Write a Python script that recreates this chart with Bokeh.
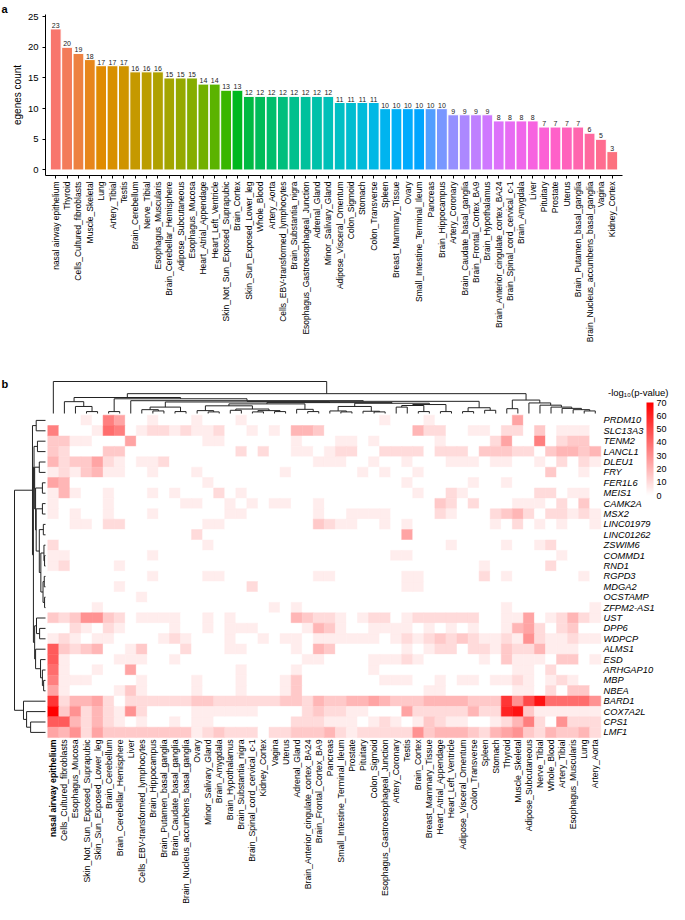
import math
from bokeh.plotting import figure
from bokeh.models import (ColumnDataSource, FactorRange, Range1d, Label, LinearColorMapper,
                          ColorBar, FixedTicker, Title)
from bokeh.core.properties import value
from bokeh.transform import linear_cmap
from bokeh.embed import file_html
from bokeh.resources import INLINE

FONT = "Liberation Sans"

# ---------------- Panel a data ----------------
bar_tissues = ["nasal airway epithelium", "Thyroid", "Cells_Cultured_fibroblasts", "Muscle_Skeletal",
               "Lung", "Artery_Tibial", "Testis", "Brain_Cerebellum", "Nerve_Tibial",
               "Esophagus_Muscularis", "Brain_Cerebellar_Hemisphere", "Adipose_Subcutaneous",
               "Esophagus_Mucosa", "Heart_Atrial_Appendage", "Heart_Left_Ventricle",
               "Skin_Not_Sun_Exposed_Suprapubic", "Brain_Cortex", "Skin_Sun_Exposed_Lower_leg",
               "Whole_Blood", "Artery_Aorta", "Cells_EBV-transformed_lymphocytes",
               "Brain_Substantia_nigra", "Esophagus_Gastroesophageal_Junction", "Adrenal_Gland",
               "Minor_Salivary_Gland", "Adipose_Visceral_Omentum", "Colon_Sigmoid", "Stomach",
               "Colon_Transverse", "Spleen", "Breast_Mammary_Tissue", "Ovary",
               "Small_Intestine_Terminal_Ileum", "Pancreas", "Brain_Hippocampus", "Artery_Coronary",
               "Brain_Caudate_basal_ganglia", "Brain_Frontal_Cortex_BA9", "Brain_Hypothalamus",
               "Brain_Anterior_cingulate_cortex_BA24", "Brain_Spinal_cord_cervical_c-1",
               "Brain_Amygdala", "Liver", "Pituitary", "Prostate", "Uterus",
               "Brain_Putamen_basal_ganglia", "Brain_Nucleus_accumbens_basal_ganglia", "Vagina",
               "Kidney_Cortex"]
bar_counts = [23, 20, 19, 18, 17, 17, 17, 16, 16, 16, 15, 15, 15, 14, 14, 13, 13, 12, 12, 12,
              12, 12, 12, 12, 12, 11, 11, 11, 11, 10, 10, 10, 10, 10, 10, 9, 9, 9, 9, 8,
              8, 8, 8, 7, 7, 7, 7, 6, 5, 3]
y_ticks_a = [0, 5, 10, 15, 20, 25]

# ---------------- Panel b data ----------------
heat_tissues = ["nasal airway epithelium", "Cells_Cultured_fibroblasts", "Esophagus_Mucosa",
                "Skin_Not_Sun_Exposed_Suprapubic", "Skin_Sun_Exposed_Lower_leg", "Brain_Cerebellum",
                "Brain_Cerebellar_Hemisphere", "Liver", "Cells_EBV-transformed_lymphocytes",
                "Brain_Hippocampus", "Brain_Putamen_basal_ganglia", "Brain_Caudate_basal_ganglia",
                "Brain_Nucleus_accumbens_basal_ganglia", "Ovary", "Minor_Salivary_Gland",
                "Brain_Amygdala", "Brain_Hypothalamus", "Brain_Substantia_nigra",
                "Brain_Spinal_cord_cervical_c-1", "Kidney_Cortex", "Vagina", "Uterus",
                "Adrenal_Gland", "Brain_Anterior_cingulate_cortex_BA24", "Brain_Frontal_Cortex_BA9",
                "Pancreas", "Small_Intestine_Terminal_Ileum", "Prostate", "Pituitary",
                "Colon_Sigmoid", "Esophagus_Gastroesophageal_Junction", "Artery_Coronary", "Testis",
                "Brain_Cortex", "Breast_Mammary_Tissue", "Heart_Atrial_Appendage",
                "Heart_Left_Ventricle", "Adipose_Visceral_Omentum", "Colon_Transverse", "Spleen",
                "Stomach", "Thyroid", "Muscle_Skeletal", "Adipose_Subcutaneous", "Nerve_Tibial",
                "Whole_Blood", "Artery_Tibial", "Esophagus_Muscularis", "Lung", "Artery_Aorta"]
heat_genes = ["PRDM10", "SLC13A3", "TENM2", "LANCL1", "DLEU1", "FRY", "FER1L6", "MEIS1", "CAMK2A",
              "MSX2", "LINC01979", "LINC01262", "ZSWIM6", "COMMD1", "RND1", "RGPD3", "MDGA2",
              "OCSTAMP", "ZFPM2-AS1", "UST", "DPP6", "WDPCP", "ALMS1", "ESD", "ARHGAP10", "MBP",
              "NBEA", "BARD1", "COX7A2L", "CPS1", "LMF1"]
# -log10(p) per gene (row) and tissue (column); one base-36 digit per cell, value = digit * 5
heat_rows = [
    "0001075001 0001000100 0000000000 1000100000 0050000000",  # PRDM10
    "7000187012 2121120010 1044300000 0004220011 0220301110",  # SLC13A3
    "3311000500 0000110000 0010001101 0000010000 2500702330",  # TENM2
    "3200033000 0000000202 0011012200 2222022203 3322034434",  # LANCL1
    "4233521011 2000000000 0000111001 0010001110 1100102021",  # DLEU1
    "1213411001 0001000000 0100000010 1001000000 0000030010",  # FRY
    "5400000000 0000100000 0000000000 0010000010 0100000000",  # FER1L6
    "1410010001 0100020100 0000000000 0001002100 0000220110",  # MEIS1
    "1000010000 0011001010 1100100000 0000032020 0011102030",  # CAMK2A
    "1010010001 0000001100 0000100111 1000021000 2342022121",  # MSX2
    "0011022000 0000110000 0000321100 1010000000 1020101001",  # LINC01979
    "0000000000 0002000000 0000000000 0050000000 0000000000",  # LINC01262
    "2000000000 0000100000 0000000000 0000001000 0100120000",  # ZSWIM6
    "1100000001 0000000000 0000000000 0110000000 0000001000",  # COMMD1
    "1200001000 0000000000 0000000000 0000000001 0000020000",  # RND1
    "0000000001 0000110000 0000110000 0011000002 0100000010",  # RGPD3
    "0000001000 0000000020 0000000000 0011000000 0000000000",  # MDGA2
    "0000000010 0000000000 0000000000 0000000000 0000000000",  # OCSTAMP
    "0000100000 0000000000 1010000000 0000000000 0100000001",  # ZFPM2-AS1
    "3236632011 1100101000 0043221012 2012222220 0115012421",  # UST
    "0021021000 0100101110 0001431001 1110101010 0145202300",  # DPP6
    "1210110000 1210001001 0110111111 0121232321 1216211211",  # WDPCP
    "9323400130 0020001100 0010430000 0010122022 1322411100",  # ALMS1
    "9100001110 0100000000 0001100001 1121000001 0311103301",  # ESD
    "8100100500 0000000100 0010000001 0000000000 0011020000",  # ARHGAP10
    "7111000010 0001000100 0130000000 1110010110 1121012100",  # MBP
    "5100001310 0001000100 0130000000 0000110000 0011020330",  # NBEA
    "b244520222 2223322222 2332433445 4333444433 3b6ad88886",  # BARD1
    "e362421620 0001111110 0002322110 0052222242 2cd3111111",  # COX7A2L
    "9942421010 0101100000 0022211101 2101321100 1247206222",  # CPS1
    "5462533333 3331232220 2233342122 2226344432 4563243342",  # LMF1
]
legend_ticks = [0, 10, 20, 30, 40, 50, 60, 70]

# clustering trees: [left, right, merge height]; leaves are column / row indices
col_tree = [0,
            [[[1, [2, [3, 4, 0.06], 0.22], 0.37],
              [[5, 6, 0.06],
               [7,
                [[[[8, [9, 10, 0.08], 0.12], [11, 12, 0.06], 0.20],
                  [[[[13, [14, 15, 0.05], 0.09],
                     [[16, 17, 0.10], [[18, 19, 0.05], [20, 21, 0.06], 0.09], 0.14], 0.24],
                    [22, [23, 24, 0.06], 0.13], 0.30],
                   [[[25, [26, 27, 0.05], 0.08], [28, [29, 30, 0.05], 0.07], 0.22],
                    [[[31, 32, 0.20], [33, 34, 0.06], 0.25], [35, 36, 0.06], 0.28], 0.32],
                   0.34],
                  0.36],
                 [[37, 38, 0.06], [39, 40, 0.10], 0.18],
                 0.38],
                0.40],
               0.46],
              0.50],
             [[41, 42, 0.15],
              [43, [44, [45, [46, [47, [48, 49, 0.08], 0.12], 0.16], 0.20], 0.26], 0.33], 0.42],
             0.62],
            1.0]
row_tree = [[[0, 1, 0.30],
             [[[2, 3, 0.26],
               [[4, 5, 0.20],
                [[6, 7, 0.10],
                 [[8, 9, 0.10],
                  [[10, 11, 0.07],
                   [[12, [13, 14, 0.03], 0.05],
                    [[15, 16, 0.04], [17, 18, 0.03], 0.08], 0.15],
                   0.20],
                  0.30],
                 0.32],
                0.35],
               0.37],
              [[19, [20, 21, 0.19], 0.29],
               [22, [23, [24, [25, 26, 0.06], 0.10], 0.16], 0.32], 0.35],
              0.39],
             0.42],
            [27, [28, [29, 30, 0.48], 0.61], 0.71],
            1.0]


# ---------------- helpers ----------------
def hcl_hex(h, c=100.0, l=65.0):
    hr = math.radians(h)
    u, v = c * math.cos(hr), c * math.sin(hr)
    Xn, Yn, Zn = 95.047, 100.0, 108.883
    Y = Yn * ((l + 16) / 116) ** 3
    d = Xn + 15 * Yn + 3 * Zn
    un, vn = 4 * Xn / d, 9 * Yn / d
    up, vp = u / (13 * l) + un, v / (13 * l) + vn
    X = Y * 9 * up / (4 * vp)
    Z = Y * (12 - 3 * up - 20 * vp) / (4 * vp)
    X, Y, Z = X / 100, Y / 100, Z / 100
    rgb = [3.240479 * X - 1.537150 * Y - 0.498535 * Z,
           -0.969256 * X + 1.875992 * Y + 0.041556 * Z,
           0.055648 * X - 0.204043 * Y + 1.057311 * Z]
    out = []
    for ch in rgb:
        ch = 12.92 * ch if ch <= 0.0031308 else 1.055 * ch ** (1 / 2.4) - 0.055
        out.append(int(round(min(max(ch, 0), 1) * 255)))
    return "#%02x%02x%02x" % tuple(out)


def tree_segments(tree):
    segs, leaves = [], []

    def walk(n):
        if isinstance(n, int):
            leaves.append(n)
            return n + 0.5, 0.0
        l, r, h = n
        pl, hl = walk(l)
        pr, hr = walk(r)
        segs.append((pl, hl, pl, h))
        segs.append((pr, hr, pr, h))
        segs.append((pl, h, pr, h))
        return (pl + pr) / 2, h

    walk(tree)
    return segs, leaves


# ---------------- Panel a ----------------
WA, HA = 669, 345
n = len(bar_tissues)
bar_colors = [hcl_hex(15 + 360 * i / n) for i in range(n)]
src_a = ColumnDataSource(dict(tissue=bar_tissues, count=bar_counts, color=bar_colors,
                              label=[str(c) for c in bar_counts]))

panel_title = Title(text="a", text_font=FONT, text_font_size="11px", text_font_style="bold",
                    text_color="black", align="left", offset=-44, standoff=0)
pa = figure(width=WA, height=HA, title=panel_title,
            x_range=FactorRange(factors=bar_tissues, range_padding=0.4, range_padding_units="absolute"),
            y_range=Range1d(-0.9, 25.35),
            output_backend="svg", toolbar_location=None,
            min_border_left=45, min_border_right=47, min_border_top=5, min_border_bottom=167)
pa.vbar(x="tissue", top="count", bottom=0, width=0.95, fill_color="color", line_color="white",
        line_width=1, source=src_a)
pa.text(x="tissue", y="count", text="label", source=src_a, text_font=value(FONT),
        text_font_size="7px", text_align="center", text_baseline="bottom", y_offset=-1,
        text_color="#222222")
pa.xgrid.grid_line_color = None
pa.ygrid.grid_line_color = None
pa.outline_line_color = None

xa = pa.xaxis[0]
xa.major_label_orientation = math.pi / 2
xa.major_label_text_font = FONT
xa.major_label_text_font_size = "8.5px"
xa.major_label_text_color = "black"
xa.major_label_standoff = 3
xa.major_tick_out = 3
xa.major_tick_in = 0
xa.axis_line_color = "black"
xa.major_tick_line_color = "black"
xa.major_label_overrides = {bar_tissues[0]: ""}

ya = pa.yaxis[0]
ya.ticker = FixedTicker(ticks=y_ticks_a)
ya.axis_label = "egenes count"
ya.axis_label_text_font = FONT
ya.axis_label_text_font_size = "10px"
ya.axis_label_text_font_style = "normal"
ya.axis_label_text_color = "black"
ya.axis_label_standoff = 2
ya.major_label_text_font = FONT
ya.major_label_text_font_size = "9.5px"
ya.major_label_text_color = "black"
ya.major_label_standoff = 4
ya.major_tick_out = 3
ya.major_tick_in = 0
ya.minor_tick_line_color = None
ya.axis_line_color = "black"

# bold label of the first category, placed where the axis puts its labels
pa.add_layout(Label(x=0.5, y=-1.854, text=bar_tissues[0], angle=math.pi / 2,
                    text_align="right", text_baseline="middle", text_font=FONT,
                    text_font_size="8.5px", text_font_style="bold", text_color="black"))

# ---------------- Panel b ----------------
X0, CW = 47.3, 11.06      # heatmap left edge (px) and cell width
Y0, RH = 414.7, 10.4      # heatmap top edge (px) and cell height
T, WB, HB = HA, 669, 559
def dx(px): return (px - X0) / CW
def dy(px): return (px - Y0) / RH

pb = figure(width=WB, height=HB, x_range=Range1d(dx(0), dx(WB)),
            y_range=Range1d(dy(T + HB), dy(T)), output_backend="svg", toolbar_location=None,
            min_border=0, min_border_left=0, min_border_right=0, min_border_top=0,
            min_border_bottom=0, x_axis_location=None, y_axis_location=None)
pb.grid.visible = False
pb.outline_line_color = None

palette = []
for i in range(256):
    g = int(round(255 * (1 - i / 255)))
    palette.append("#ff%02x%02x" % (g, g))

hx, hy, hv = [], [], []
for r, row in enumerate(heat_rows):
    cells = row.replace(" ", "")
    for c, ch in enumerate(cells):
        hx.append(c + 0.5)
        hy.append(r + 0.5)
        hv.append(int(ch, 36) * 5)
src_h = ColumnDataSource(dict(x=hx, y=hy, v=hv))
cmap = linear_cmap("v", palette, 0, 70)
pb.rect(x="x", y="y", width=1, height=1, source=src_h, fill_color=cmap, line_color=cmap,
        line_width=0.5)

# dendrograms
segs, leaves = tree_segments(col_tree)
assert leaves == list(range(len(heat_tissues)))
cy0, cys = dy(413), dy(413) - dy(381)
pb.segment(x0=[s[0] for s in segs], y0=[cy0 - s[1] * cys for s in segs],
           x1=[s[2] for s in segs], y1=[cy0 - s[3] * cys for s in segs],
           line_color="#222222", line_width=1)
segs, leaves = tree_segments(row_tree)
assert leaves == list(range(len(heat_genes)))
rx0, rxs = dx(45), dx(45) - dx(14)
pb.segment(x0=[rx0 - s[1] * rxs for s in segs], y0=[s[0] for s in segs],
           x1=[rx0 - s[3] * rxs for s in segs], y1=[s[2] for s in segs],
           line_color="#222222", line_width=1)

# gene labels
pb.text(x=dx(603), y=[r + 0.5 for r in range(len(heat_genes))], text=heat_genes,
        text_font=value(FONT), text_font_size="9.3px", text_font_style="italic",
        text_align="left", text_baseline="middle", text_color="black")
# tissue labels
src_t = ColumnDataSource(dict(x=[c + 0.5 for c in range(len(heat_tissues))], text=heat_tissues,
                              fs=["bold"] + ["normal"] * (len(heat_tissues) - 1)))
pb.text(x="x", y=dy(739), text="text", source=src_t, angle=math.pi / 2,
        text_font=value(FONT), text_font_size="8.7px", text_font_style="fs",
        text_align="right", text_baseline="middle", text_color="black")

# legend
mapper = LinearColorMapper(palette=palette, low=0, high=70)
cb = ColorBar(color_mapper=mapper, ticker=FixedTicker(ticks=legend_ticks), width=7, height=93,
              location=(646, T + HB - 495), padding=0, margin=0, label_standoff=3,
              major_label_text_font=FONT, major_label_text_font_size="9px",
              major_label_text_color="black", major_tick_line_color=None,
              bar_line_color=None, border_line_color=None, background_fill_alpha=0)
pb.add_layout(cb)
pb.text(x=[dx(668)], y=[dy(392)], text=["-log\u2081\u2080(p-value)"], text_font=value(FONT),
        text_font_size="9.5px", text_align="right", text_baseline="middle", text_color="black")
pb.text(x=[dx(1)], y=[dy(377)], text=["b"], text_font=value(FONT), text_font_size="11px",
        text_font_style="bold", text_align="left", text_baseline="top", text_color="black")

open("out.html", "w").write(file_html([pa, pb], INLINE))
